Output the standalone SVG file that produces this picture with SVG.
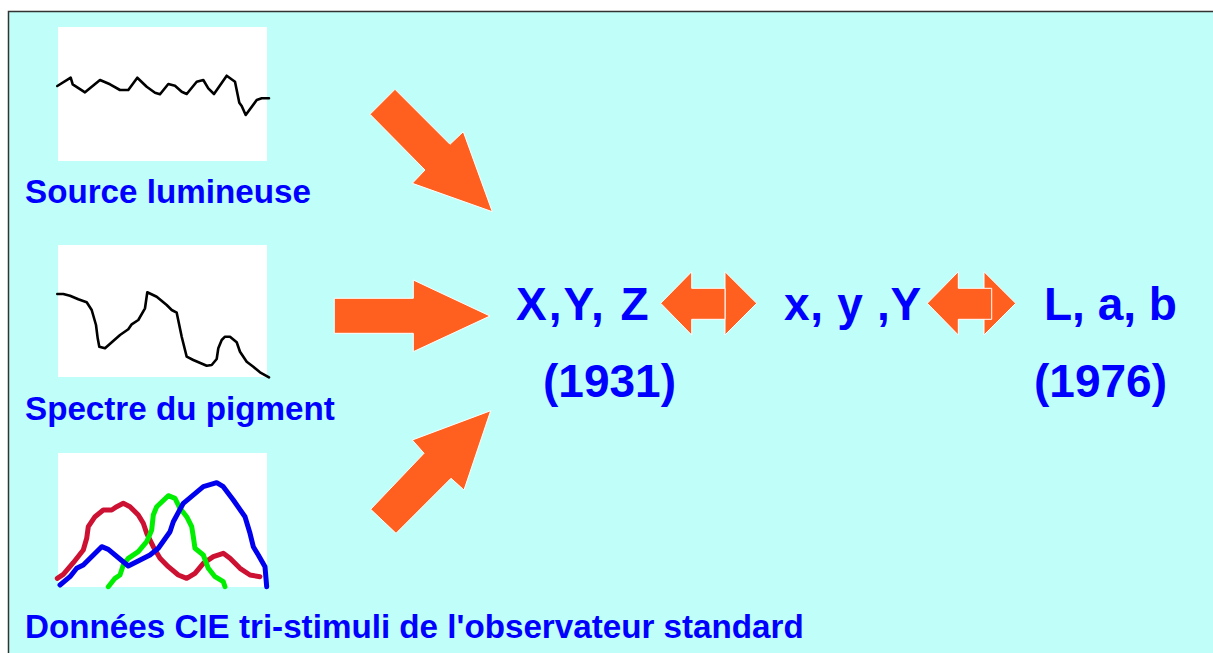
<svg xmlns="http://www.w3.org/2000/svg" width="1213" height="653" viewBox="0 0 1213 653">
<style>
.lbl{font-family:"Liberation Sans",Arial,sans-serif;font-weight:bold;fill:#0000FF;font-size:33.2px}
.big{font-family:"Liberation Sans",Arial,sans-serif;font-weight:bold;fill:#0000FF;font-size:46px}
.panel{fill:#FFFFFF}
.curve{fill:none;stroke:#000;stroke-width:2.6;stroke-linejoin:round;stroke-linecap:round}
.cie{fill:none;stroke-width:5;stroke-linejoin:round;stroke-linecap:round}
.arr{fill:#FF6020;stroke:#FFFFFF;stroke-width:1;stroke-linejoin:miter}
</style>
<rect x="0" y="0" width="1213" height="653" fill="#FFFFFF"/>
<rect x="8" y="11" width="1205" height="642" fill="#C0FFF9"/>
<path d="M8.5 653 V11.5 H1213" fill="none" stroke="#333333" stroke-width="1.5"/>

<g id="source">
<rect class="panel" x="58" y="27" width="209" height="134"/>
<polyline class="curve" points="57.3,86 70.7,77.7 72.7,84.3 85,92.3 100,80 110,84.3 120,90 128.3,90 137.3,77.7 146.7,86.7 155,92.7 160,94.3 168.3,84 175,85.7 181.7,91.7 186.7,94 196.7,81.7 203.3,80 208.3,88.3 214,94 226.7,75.7 235,81.7 239.3,102.7 241.7,106 245.7,115 256.7,100 261.7,98.3 269,98.3"/>
<text class="lbl" x="25" y="203">Source lumineuse</text>
</g>

<g id="pigment">
<rect class="panel" x="58" y="245" width="209" height="132"/>
<polyline class="curve" points="57.3,294 63.3,294 70,295.7 78.3,299.3 86.7,302.3 91.7,310 96,325 97.7,338.3 99.3,346.7 105,348.3 120,335 128.3,329.3 131.7,324.3 138.3,320 145,308.3 147.3,292.3 156.7,296.7 166.7,305 171.7,310 176.7,312.7 181.7,336.7 186.7,356.7 193.3,360 206.7,365.7 211.7,365 216.7,359 218.3,348.3 221.7,340 225,336.7 230,336.7 236.7,342.3 240,351.7 246.7,361.7 253.3,366.7 260,372.3 269,377.3"/>
<text class="lbl" x="25" y="420">Spectre du pigment</text>
</g>

<g id="cie">
<rect class="panel" x="58" y="453" width="209" height="134"/>
<polyline class="cie" stroke="#CC1133" points="57.3,578.3 63.3,574.3 73.3,562.7 83.3,550 86.7,538.3 88.3,526.7 95,516.7 103.3,510 111.7,510 116.7,506.7 123.3,503.3 130,506.7 138.3,515 143.3,523.3 146.7,533.3 153.3,546.7 160,558.3 168.3,566.7 178.3,575 186.7,578.3 195,573.3 203.3,563.3 213.3,556.7 223.3,553.3 230,558.3 240,568.3 250,575 260,576.7"/>
<polyline class="cie" stroke="#00EE00" points="108.3,586.7 115,578.3 120,575 123.3,565 128.3,558.3 138.3,551.7 146.7,541.7 151.7,530 153.3,515 156.7,506.7 168.3,495.7 175,498.3 180,508.3 186.7,516.7 191.7,526.7 193.3,536.7 195,548.3 203.3,555 208.3,568.3 215,576.7 223.3,581.7 225,586.7"/>
<polyline class="cie" stroke="#0000EE" points="60,585 70,576.7 76.7,568.3 83.3,565 101.7,546.7 108.3,549.3 128.3,566 136.7,561.7 150,555 158.3,548.3 170,531.7 173.3,521.7 183.3,503.3 203.3,486.7 216.7,482.7 223.3,486.7 233.3,500 245,516.7 250,533.3 253.3,546.7 258.3,555 265,566.7 266.7,586.7"/>
<text class="lbl" x="25" y="638">Données CIE tri-stimuli de l'observateur standard</text>
</g>

<g id="xyz">
<text class="big" x="516" y="320" letter-spacing="2">X,Y, Z</text>
<text class="big" x="543" y="397">(1931)</text>
</g>

<g id="xyY">
<text class="big" x="784" y="320" letter-spacing="0.7">x, y ,Y</text>
</g>

<g id="lab">
<text class="big" x="1044" y="320">L, a, b</text>
<text class="big" x="1034" y="397">(1976)</text>
</g>

<g id="connectors">
<polygon class="arr" points="370,114.3 395,89.3 450,144.3 463.3,131.7 492.3,211.7 412.3,183.3 425,170"/>
<polygon class="arr" points="334.3,298.3 413.3,298.3 413.3,280 490,316 413.3,351.7 413.3,333.3 334.3,333.3"/>
<polygon class="arr" points="370.7,509.3 424,453.3 412.3,440 490.7,410.7 464,490 451,478.3 396,533.3"/>
<polygon class="arr" points="725,271.7 756.7,303.3 725,335"/>
<polygon class="arr" points="660.7,303.3 691.7,271.7 691.7,288.3 725,288.3 725,319.3 691.7,319.3 691.7,335"/>
<polygon class="arr" points="984,271.7 1015.7,303.3 984,335"/>
<polygon class="arr" points="927.3,303.3 958.3,271.7 958.3,288.3 991.7,288.3 991.7,319.3 958.3,319.3 958.3,335"/>
</g>
</svg>
